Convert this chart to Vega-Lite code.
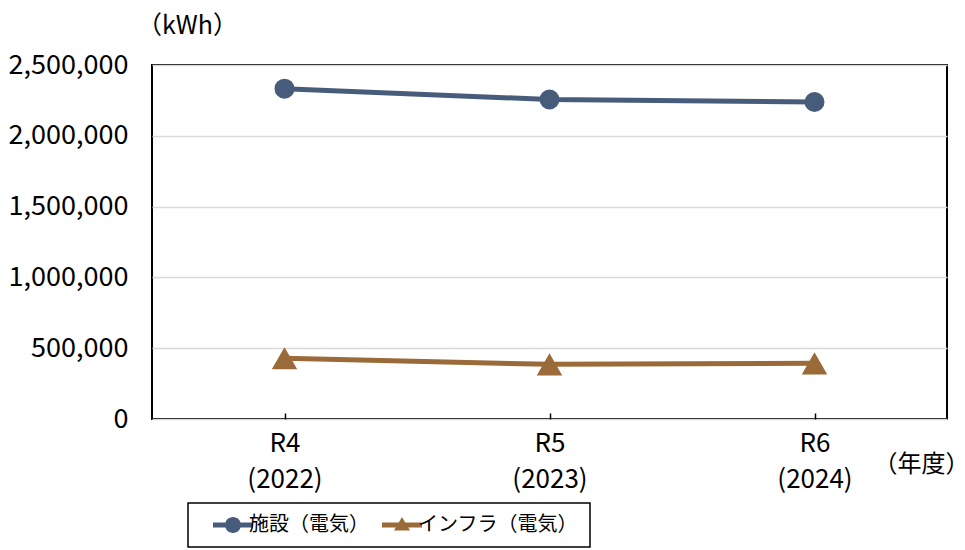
{
  "$schema": "https://vega.github.io/schema/vega-lite/v6.json",
  "width": 795,
  "height": 354,
  "autosize": "none",
  "padding": {"left": 152, "top": 65, "right": 18, "bottom": 131},
  "background": "white",
  "config": {
    "font": "Noto Sans CJK JP",
    "view": {"stroke": "black", "strokeWidth": 2},
    "axis": {"labelColor": "black", "titleColor": "black", "titleFont": "Noto Sans CJK JP", "titleFontWeight": "normal"}
  },
  "data": {
    "values": [
      {"year": "R4\n(2022)", "series": "施設（電気）", "value": 2333000},
      {"year": "R5\n(2023)", "series": "施設（電気）", "value": 2256000},
      {"year": "R6\n(2024)", "series": "施設（電気）", "value": 2239000},
      {"year": "R4\n(2022)", "series": "インフラ（電気）", "value": 429000},
      {"year": "R5\n(2023)", "series": "インフラ（電気）", "value": 386000},
      {"year": "R6\n(2024)", "series": "インフラ（電気）", "value": 393000}
    ]
  },
  "encoding": {
    "x": {
      "field": "year", "type": "ordinal", "sort": null,
      "scale": {"type": "point", "padding": 0.5},
      "axis": {
        "title": "（年度）", "titleAngle": 0, "titleX": 769, "titleY": 45, "titleAlign": "center", "titleBaseline": "middle", "titleFontSize": 24,
        "labelAngle": 0, "labelFont": "Liberation Sans Narrow, Noto Sans CJK JP", "labelFontSize": 26, "labelLineHeight": 36, "labelPadding": 17, "labelBaseline": "top",
        "labelExpr": "split(datum.label, '\\n')",
        "domain": false, "ticks": true, "tickColor": "black", "tickWidth": 1.5, "tickSize": -6, "grid": false
      }
    },
    "y": {
      "field": "value", "type": "quantitative",
      "scale": {"domain": [0, 2500000]},
      "axis": {
        "title": "（kWh）", "titleAngle": 0, "titleX": 35, "titleY": -40, "titleAlign": "center", "titleBaseline": "middle", "titleFontSize": 25,
        "values": [0, 500000, 1000000, 1500000, 2000000, 2500000],
        "labelExpr": "format(datum.value, ',')",
        "labelFont": "Liberation Sans Narrow, Noto Sans CJK JP", "labelFontSize": 27, "labelPadding": 24, "domain": false, "ticks": false,
        "grid": true, "gridColor": "#d9d9d9", "gridWidth": 1.5
      }
    },
    "color": {
      "field": "series", "type": "nominal", "sort": ["施設（電気）", "インフラ（電気）"],
      "scale": {"range": ["#475C7B", "#9A6A38"]},
      "legend": {
        "orient": "none", "legendX": 36, "legendY": 438, "direction": "horizontal", "title": null,
        "strokeColor": "black", "padding": 12,
        "labelFontSize": 20, "labelColor": "black", "labelFont": "Noto Sans CJK JP", "labelLimit": 400,
        "symbolSize": 256, "symbolOffset": 23, "labelOffset": 6, "columnPadding": 0,
        "encode": {
          "legend": {"update": {"strokeWidth": {"value": 1.5}}},
          "symbols": {
            "update": {
              "shape": {"signal": "datum.value === '施設（電気）' ? 'M-2.5,-0.3 L2.5,-0.3 L2.5,0.3 L-2.5,0.3 Z M1,0 A1,1 0 1,1 -1,0 A1,1 0 1,1 1,0 Z' : 'M-2.5,-0.3 L2.5,-0.3 L2.5,0.3 L-2.5,0.3 Z M0,-1 L1,0.7 L-1,0.7 Z'"},
              "fill": {"scale": "color", "field": "value"},
              "strokeWidth": {"value": 0},
              "opacity": {"value": 1}
            }
          }
        }
      }
    }
  },
  "layer": [
    {"mark": {"type": "line", "strokeWidth": 5}},
    {
      "mark": {"type": "point", "filled": true, "opacity": 1},
      "encoding": {
        "shape": {"field": "series", "type": "nominal", "sort": ["施設（電気）", "インフラ（電気）"], "scale": {"range": ["circle", "triangle-up"]}, "legend": null},
        "size": {"field": "series", "type": "ordinal", "sort": ["施設（電気）", "インフラ（電気）"], "scale": {"range": [400, 650]}, "legend": null}
      }
    }
  ]
}
